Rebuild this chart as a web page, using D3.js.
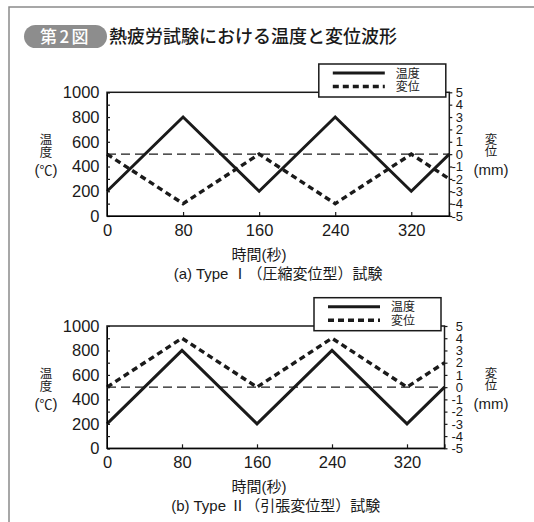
<!DOCTYPE html>
<html>
<head>
<meta charset="utf-8">
<script src="https://cdn.jsdelivr.net/npm/d3@7"></script>
<style>
  html, body { margin: 0; padding: 0; background: #fff; }
  svg { display: block; }
</style>
</head>
<body>
<svg id="fig" width="534" height="522"></svg>
<script>
// Waveforms for the thermal fatigue tests
const timeSec     = [0, 80, 160, 240, 320, 360];
const tempTypeI   = [200, 800, 200, 800, 200, 500];
const dispTypeI   = [0, -4, 0, -4, 0, -2];
const tempTypeII  = [200, 800, 200, 800, 200, 500];
const dispTypeII  = [0, 4, 0, 4, 0, 2];

// Axis ticks and labels
const timeTicks   = [0, 80, 160, 240, 320];
const tempTicks   = [0, 200, 400, 600, 800, 1000];
const dispTicks   = [-5, -4, -3, -2, -1, 0, 1, 2, 3, 4, 5];
const legendLabels = ["温度", "変位"];
const xTitle      = "時間(秒)";
const captions    = ["(a) Type Ⅰ（圧縮変位型）試験", "(b) Type Ⅱ（引張変位型）試験"];
const figTitle    = "熱疲労試験における温度と変位波形";
const badgeLabel  = "第2図";

const LATIN = "'Liberation Sans', Arial, 'Noto Sans CJK JP', sans-serif";
const CJK = "'Noto Sans CJK JP', 'Liberation Sans', sans-serif";
const INK = "#1a1a1a";
const plain = d => String(d);   // hyphen-minus, no thousands separator

const svg = d3.select("#fig");

// outer frame
svg.append("path")
  .attr("d", "M9,522V7H534")
  .attr("fill", "none").attr("stroke", "#8a8a8a").attr("stroke-width", 1.5);

// figure badge + title
svg.append("rect")
  .attr("x", 24).attr("y", 25).attr("width", 83).attr("height", 23)
  .attr("rx", 11.5).attr("fill", "#8d8d8d");
svg.append("text")
  .attr("x", 65.5).attr("y", 43).attr("text-anchor", "middle")
  .attr("font-family", CJK).attr("font-size", 17).attr("font-weight", 500)
  .attr("letter-spacing", 2.5)
  .attr("fill", "#fff").text(badgeLabel);
svg.append("text")
  .attr("x", 109).attr("y", 43)
  .attr("font-family", CJK).attr("font-size", 18).attr("font-weight", 500)
  .attr("fill", INK).text(figTitle);

const panels = [
  { left: 107, right: 449.3, top: 92.3, bottom: 216,  temp: tempTypeI,  disp: dispTypeI,  caption: captions[0] },
  { left: 107, right: 444.5, top: 326,  bottom: 448.3, temp: tempTypeII, disp: dispTypeII, caption: captions[1] }
];

panels.forEach(p => {
  const g = svg.append("g");
  const x  = d3.scaleLinear().domain([0, 360]).range([p.left, p.right]);
  const yT = d3.scaleLinear().domain([0, 1000]).range([p.bottom, p.top]);
  const yD = d3.scaleLinear().domain([-5, 5]).range([p.bottom, p.top]);

  // zero-displacement reference
  g.append("line")
    .attr("x1", p.left).attr("x2", p.right)
    .attr("y1", yD(0)).attr("y2", yD(0))
    .attr("stroke", INK).attr("stroke-width", 1.1)
    .attr("stroke-dasharray", "9,5");

  const rows = timeSec.map((t, i) => ({ t, temp: p.temp[i], disp: p.disp[i] }));

  // displacement (dashed)
  g.append("path")
    .datum(rows)
    .attr("d", d3.line().x(d => x(d.t)).y(d => yD(d.disp)))
    .attr("fill", "none").attr("stroke", INK).attr("stroke-width", 3.4)
    .attr("stroke-dasharray", "6,4");

  // temperature (solid)
  g.append("path")
    .datum(rows)
    .attr("d", d3.line().x(d => x(d.t)).y(d => yT(d.temp)))
    .attr("fill", "none").attr("stroke", INK).attr("stroke-width", 3)
    .attr("stroke-linejoin", "miter");

  // plot frame
  g.append("rect")
    .attr("x", p.left).attr("y", p.top)
    .attr("width", p.right - p.left).attr("height", p.bottom - p.top)
    .attr("fill", "none").attr("stroke", INK).attr("stroke-width", 1.5);

  // left axis: labels
  const la = g.append("g").attr("transform", `translate(${p.left},0)`)
    .call(d3.axisLeft(yT).tickValues(tempTicks).tickSize(0).tickPadding(7.5).tickFormat(plain));
  // left axis: small inward ticks
  g.append("g").attr("transform", `translate(${p.left},0)`)
    .call(d3.axisRight(yD).tickValues(dispTicks).tickSize(3).tickFormat(""));

  // bottom axis: inward ticks and labels
  g.append("g").attr("transform", `translate(0,${p.bottom})`)
    .call(d3.axisTop(x).tickValues(timeTicks.slice(1)).tickSize(4).tickFormat(""));
  const ba = g.append("g").attr("transform", `translate(0,${p.bottom})`)
    .call(d3.axisBottom(x).tickValues(timeTicks).tickSize(0).tickPadding(8).tickFormat(plain));

  // right axis: outward ticks and labels
  const ra = g.append("g").attr("transform", `translate(${p.right},0)`)
    .call(d3.axisRight(yD).tickValues(dispTicks).tickSize(3).tickFormat(plain));
  ra.selectAll("text")
    .attr("text-anchor", "end").attr("x", 463 - p.right)
    .attr("font-size", 13).attr("font-family", LATIN).attr("fill", INK);

  [la, ba, ra].forEach(a => a.select(".domain").remove());
  g.selectAll(".tick line").attr("stroke", INK).attr("stroke-width", 1.2);
  la.selectAll("text").attr("font-size", 16.5).attr("font-family", LATIN).attr("fill", INK);
  ba.selectAll("text").attr("font-size", 16.5).attr("font-family", LATIN).attr("fill", INK);

  // left axis title
  const lt = g.append("text").attr("font-family", CJK).attr("font-size", 12.5)
    .attr("fill", INK).attr("text-anchor", "middle");
  lt.append("tspan").attr("x", 46).attr("y", p.top + 52).text("温");
  lt.append("tspan").attr("x", 46).attr("y", p.top + 64.5).text("度");
  const lu = lt.append("tspan").attr("x", 46).attr("y", p.top + 82.5);
  lu.append("tspan").attr("font-family", LATIN).attr("font-size", 15).text("(");
  lu.append("tspan").attr("font-family", CJK).attr("font-size", 13).text("℃");
  lu.append("tspan").attr("font-family", LATIN).attr("font-size", 15).text(")");

  // right axis title
  const rt = g.append("text").attr("font-family", CJK).attr("font-size", 12.5)
    .attr("fill", INK).attr("text-anchor", "middle");
  rt.append("tspan").attr("x", 491).attr("y", p.top + 51.5).text("変");
  rt.append("tspan").attr("x", 491).attr("y", p.top + 64).text("位");
  rt.append("tspan").attr("x", 491).attr("y", p.top + 82.5)
    .attr("font-family", LATIN).attr("font-size", 15).text("(mm)");

  // x axis title and caption
  g.append("text").attr("x", 259).attr("y", p.bottom + 44)
    .attr("text-anchor", "middle").attr("font-family", LATIN).attr("font-size", 15)
    .attr("fill", INK).text(xTitle);
  g.append("text").attr("x", (p.left + p.right) / 2).attr("y", p.bottom + 63)
    .attr("text-anchor", "middle").attr("font-family", LATIN).attr("font-size", 15)
    .attr("fill", INK).text(p.caption);

  // legend
  const lx = p.right - 130.5, ly = p.top - 28.3;
  const lg = g.append("g").attr("transform", `translate(${lx},${ly})`);
  lg.append("rect").attr("width", 127).attr("height", 33)
    .attr("fill", "#fff").attr("stroke", INK).attr("stroke-width", 1.5);
  const styles = [{ dash: null, w: 3 }, { dash: "6,4", w: 3.4 }];
  legendLabels.forEach((lab, i) => {
    const yy = 9 + i * 13.5;
    lg.append("line").attr("x1", 14).attr("x2", 66).attr("y1", yy).attr("y2", yy)
      .attr("stroke", INK).attr("stroke-width", styles[i].w)
      .attr("stroke-dasharray", styles[i].dash);
    lg.append("text").attr("x", 77).attr("y", yy + 4.5)
      .attr("font-family", CJK).attr("font-size", 12).attr("fill", INK).text(lab);
  });
});
</script>
</body>
</html>
